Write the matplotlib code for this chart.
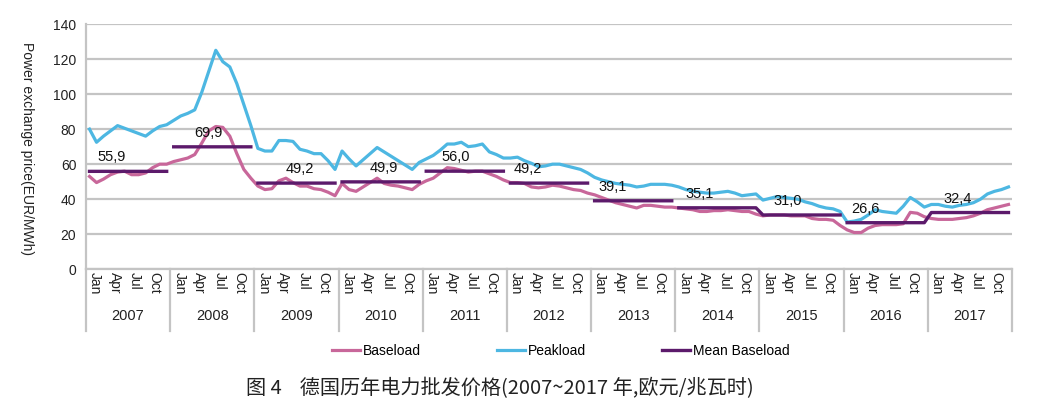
import numpy as np
import matplotlib
matplotlib.use("Agg")
import matplotlib.pyplot as plt
from matplotlib.transforms import blended_transform_factory

# =========================
# DATA (monthly, Jan 2007 - Dec 2017, EUR/MWh)
# =========================
years = [2007, 2008, 2009, 2010, 2011, 2012, 2013, 2014, 2015, 2016, 2017]
month_labels = ["Jan", "Apr", "Jul", "Oct"]

baseload = [
    53, 49.5, 51.5, 54, 55.5, 56, 54, 54, 55, 58, 60, 60,                 # 2007
    61.5, 62.5, 63.5, 65.5, 72, 79, 81.5, 81, 76, 66, 57, 52,             # 2008
    47.5, 45.5, 46, 50.5, 52, 49.5, 47.5, 47.5, 46, 45.5, 44, 42,         # 2009
    49, 45.5, 44.5, 47, 49.5, 52, 49, 48, 47.5, 46.5, 45.5, 48.5,         # 2010
    50.5, 52, 55, 58, 57.5, 56.5, 55.5, 56, 56, 54.5, 53, 51,             # 2011
    49.5, 49.5, 49, 47, 46.5, 47, 48, 47.5, 46.5, 45.5, 45, 43.5,         # 2012
    42.5, 41, 39.5, 38, 37, 36, 35, 36.5, 36.5, 36, 35.5, 35.5,           # 2013
    35, 34.5, 34, 33, 33, 33.5, 33.5, 34, 33.5, 33, 33, 31.5,             # 2014
    30.5, 31, 31, 31, 30.5, 30.5, 30.5, 29, 28.5, 28.5, 28, 25,           # 2015
    22.5, 21, 21, 23.5, 25, 25.5, 25.5, 25.5, 26, 32.5, 32, 30,           # 2016
    29, 28.5, 28.5, 28.5, 29, 29.5, 30.5, 32, 34, 35, 36, 37,             # 2017
]

peakload = [
    80, 72.5, 76, 79, 82, 80.5, 79, 77.5, 76, 79, 81.5, 82.5,             # 2007
    85, 87.5, 89, 91, 101, 113, 125, 118.5, 115.5, 106, 94, 82,           # 2008
    69, 67.5, 67.5, 73.5, 73.5, 73, 68.5, 67.5, 66, 66, 62, 57,           # 2009
    67.5, 63, 59, 62.5, 66, 69.5, 67, 64.5, 62, 59.5, 57, 61,             # 2010
    63, 65, 68, 71.5, 71.5, 72.5, 70, 70.5, 71.5, 67, 65.5, 63.5,         # 2011
    63.5, 64, 62, 60.5, 58.5, 59, 60, 60, 59, 58, 57, 55,                 # 2012
    52.5, 51, 50, 49, 48.5, 48, 47, 47.5, 48.5, 48.5, 48.5, 48,           # 2013
    47, 45.5, 44.5, 44, 43.5, 43.5, 44, 44.5, 43.5, 42, 42.5, 43,         # 2014
    39.5, 40.5, 41.5, 41, 40.5, 40, 38.5, 37.5, 36, 35, 34.5, 33,         # 2015
    27, 27.5, 28.5, 31, 34, 33, 32.5, 32, 36, 41, 38.5, 35.5,             # 2016
    37, 37, 36, 35.5, 36.5, 37, 38, 40, 43, 44.5, 45.5, 47,               # 2017
]

mean_baseload = [55.9, 69.9, 49.2, 49.9, 56.0, 49.2, 39.1, 35.1, 31.0, 26.6, 32.4]

# =========================
# STYLE
# =========================
BASE_COLOR = "#c8679a"
PEAK_COLOR = "#4db7e2"
MEAN_COLOR = "#5c1a6b"
GRID_COLOR = "#c4c4c4"

plt.rcParams["font.family"] = ["Liberation Sans", "DejaVu Sans"]

# label x offsets (in months from the year's January) and year-boundary links
label_offsets = [3.2, 4.9, 6.0, 5.9, 4.2, 2.5, 2.6, 3.0, 3.5, 2.6, 3.7]
linked_years = {2014, 2016}   # mean line continues into the next year

months = np.arange(len(baseload))

fig = plt.figure(figsize=(10.44, 4.04), dpi=100)
ax = fig.add_axes([86 / 1044, 1 - 269.3 / 404, 926 / 1044, 245.3 / 404])

ax.plot(months, baseload, color=BASE_COLOR, lw=2.3, label="Baseload",
        solid_joinstyle="round", zorder=3)
ax.plot(months, peakload, color=PEAK_COLOR, lw=2.3, label="Peakload",
        solid_joinstyle="round", zorder=3)

# mean baseload: one flat segment per year
mx, my = [], []
for k, (yr, m) in enumerate(zip(years, mean_baseload)):
    mx += list(range(12 * k, 12 * k + 12))
    my += [m] * 12
    if yr not in linked_years:
        mx.append(np.nan)
        my.append(np.nan)
ax.plot(mx, my, color=MEAN_COLOR, lw=2.4, label="Mean Baseload", zorder=4)

for k, m in enumerate(mean_baseload):
    ax.annotate(f"{m:.1f}".replace(".", ","), (12 * k + label_offsets[k], m),
                xytext=(0, 14), textcoords="offset pixels",
                ha="center", va="center", fontsize=10.5, color="#111111",
                zorder=5)

# axes
ax.set_xlim(-0.5, len(baseload) - 0.5)
ax.set_ylim(0, 140)
ax.set_yticks(range(0, 141, 20))
ax.yaxis.grid(True, color=GRID_COLOR, lw=1.6)
ax.set_axisbelow(True)
for side in ["top", "right"]:
    ax.spines[side].set_visible(False)
for side in ["left", "bottom"]:
    ax.spines[side].set_color(GRID_COLOR)
    ax.spines[side].set_linewidth(1.6)
ax.tick_params(axis="y", length=0, pad=7, labelsize=10, labelcolor="#222222")

tick_pos, tick_lab = [], []
for k in range(len(years)):
    for off, lab in zip([0.8, 3.6, 6.5, 9.3], month_labels):
        tick_pos.append(12 * k + off)
        tick_lab.append(lab)
ax.set_xticks(tick_pos)
ax.set_xticklabels(tick_lab, rotation=-90, fontsize=10, color="#222222")
ax.tick_params(axis="x", length=0, pad=2)

trans = blended_transform_factory(ax.transData, ax.transAxes)
for k in range(len(years) + 1):
    ax.plot([12 * k - 0.5] * 2, [0, -0.25], transform=trans, color=GRID_COLOR,
            lw=1.6, clip_on=False)
for k, yr in enumerate(years):
    ax.text(12 * k + 5.5, -0.192, str(yr), transform=trans, ha="center",
            va="center", fontsize=10.5, color="#222222")

fig.text(27 / 1044, 1 - 149 / 404, "Power exchange price(EUR/MWh)",
         rotation=-90, ha="center", va="center", fontsize=10, color="#222222")

fig.legend(loc="center", bbox_to_anchor=(561 / 1044, 1 - 351 / 404),
           ncol=3, frameon=False, fontsize=10, handlelength=2.0,
           handletextpad=0.2, columnspacing=5.5)

fig.text(500 / 1044, 1 - 388 / 404,
         "图 4    德国历年电力批发价格(2007~2017 年,欧元/兆瓦时)",
         ha="center", va="center", fontsize=14.5,
         family=["Noto Sans CJK SC", "DejaVu Sans"], color="#222222")

fig.savefig("out.png", dpi=100)
